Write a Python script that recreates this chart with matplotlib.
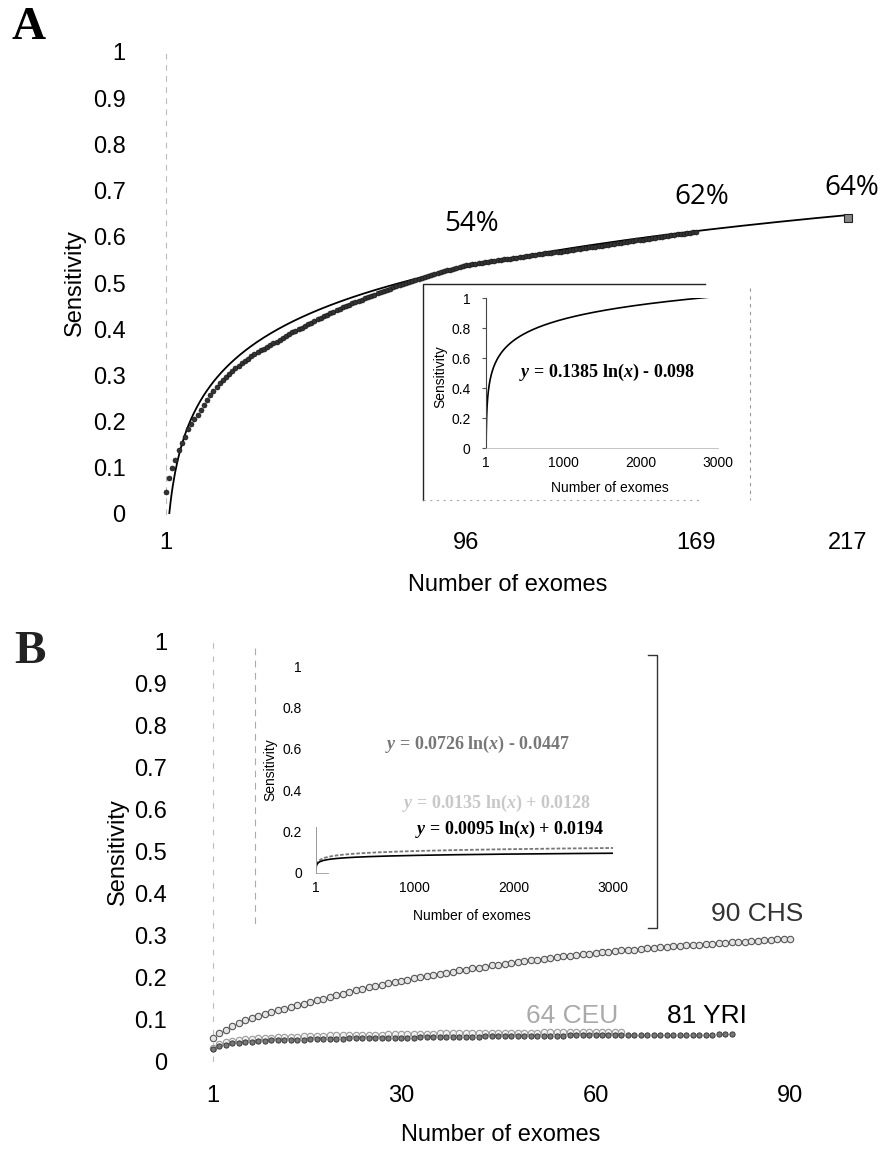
import numpy as np
import matplotlib
matplotlib.use("Agg")
import matplotlib.pyplot as plt
from matplotlib.lines import Line2D

plt.rcParams['font.family'] = ['Liberation Sans', 'DejaVu Sans']
plt.rcParams['mathtext.fontset'] = 'custom'
plt.rcParams['mathtext.rm'] = 'Liberation Serif:weight=bold'
plt.rcParams['mathtext.it'] = 'Liberation Serif:style=italic:weight=bold'
plt.rcParams['mathtext.bf'] = 'Liberation Serif:weight=bold'

# ---- panel A data: sensitivity per number of exomes (n = 1..169) ----
a_sens = [
    .048, .078, .100, .117, .139, .153, .167, .184, .195, .205,
    .214, .225, .236, .247, .258, .266, .275, .283, .290, .297,
    .303, .309, .315, .321, .326, .331, .336, .341, .346, .350,
    .354, .358, .362, .366, .370, .373, .377, .381, .385, .389,
    .393, .397, .400, .403, .407, .411, .414, .417, .421, .424,
    .428, .431, .434, .438, .441, .444, .447, .450, .453, .456,
    .459, .462, .464, .467, .470, .472, .475, .478, .480, .483,
    .485, .488, .491, .493, .495, .498, .500, .502, .505, .507,
    .509, .511, .513, .516, .518, .520, .522, .524, .526, .528,
    .529, .531, .533, .535, .537, .539, .540, .541, .542, .543,
    .544, .545, .546, .547, .548, .549, .550, .551, .552, .553,
    .554, .555, .556, .557, .558, .559, .560, .561, .562, .563,
    .564, .565, .566, .567, .567, .568, .569, .570, .571, .572,
    .573, .574, .575, .576, .577, .578, .579, .580, .581, .582,
    .583, .584, .585, .586, .587, .588, .589, .590, .591, .592,
    .593, .594, .595, .596, .597, .598, .599, .600, .601, .602,
    .603, .604, .605, .606, .607, .608, .609, .610, .611,
]
a_last_n = 217
a_last_sens = 0.64
a_fit = [0.1385, -0.098]          # y = a ln(x) + b
a_ticks = [1, 96, 169, 217]
a_pct_txt = ['54%', '62%', '64%']

# ---- panel B data ----
chs = [
    .055, .066, .075, .083, .090, .097, .103, .108, .113, .117,
    .121, .125, .129, .133, .137, .141, .145, .149, .153, .157,
    .161, .165, .169, .172, .176, .179, .182, .185, .188, .191,
    .194, .197, .200, .203, .205, .208, .211, .213, .216, .218,
    .221, .223, .225, .228, .230, .232, .234, .236, .238, .240,
    .242, .244, .246, .248, .250, .251, .253, .255, .256, .258,
    .259, .261, .262, .264, .265, .266, .268, .269, .270, .271,
    .272, .274, .275, .276, .277, .278, .279, .280, .281, .282,
    .283, .284, .285, .286, .287, .288, .289, .290, .291, .292,
]
ceu = [
    .030, .040, .045, .048, .050, .052, .053, .054, .055, .056,
    .057, .057, .058, .058, .059, .059, .060, .060, .061, .061,
    .061, .062, .062, .062, .063, .063, .063, .064, .064, .064,
    .064, .065, .065, .065, .065, .066, .066, .066, .066, .066,
    .067, .067, .067, .067, .067, .068, .068, .068, .068, .068,
    .068, .069, .069, .069, .069, .069, .069, .070, .070, .070,
    .070, .070, .070, .070,
]
yri = [
    .028, .035, .039, .042, .044, .045, .046, .047, .048, .049,
    .049, .050, .050, .051, .051, .052, .052, .052, .053, .053,
    .053, .054, .054, .054, .055, .055, .055, .055, .056, .056,
    .056, .056, .057, .057, .057, .057, .057, .058, .058, .058,
    .058, .058, .059, .059, .059, .059, .059, .059, .060, .060,
    .060, .060, .060, .060, .060, .061, .061, .061, .061, .061,
    .061, .061, .062, .062, .062, .062, .062, .062, .062, .062,
    .063, .063, .063, .063, .063, .063, .063, .063, .064, .064,
    .064,
]
b_fits = {'CHS': [0.0726, -0.0447], 'CEU': [0.0135, 0.0128], 'YRI': [0.0095, 0.0194]}
b_ticks = [1, 30, 60, 90]
inset_ticks = [1, 1000, 2000, 3000]

W, H = 881, 1152
fig = plt.figure(figsize=(W / 100, H / 100), dpi=100)


def fx(px):
    return px / W


def fy(py):
    return 1 - py / H


def box(l, t, r, b):
    return [fx(l), fy(b), fx(r) - fx(l), fy(t) - fy(b)]


def fline(xs, ys, **kw):
    fig.add_artist(Line2D([fx(v) for v in xs], [fy(v) for v in ys],
                          transform=fig.transFigure, **kw))


yt = np.round(np.arange(0, 1.01, 0.1), 1)
ylabs = ['%g' % v for v in yt]

# ================= panel A =================
axA = fig.add_axes(box(166, 52, 848, 514))
n_a = np.arange(1, len(a_sens) + 1)
xs = np.linspace(1, a_last_n, 600)
axA.plot(xs, a_fit[0] * np.log(xs) + a_fit[1], color='black', lw=1.3, zorder=2)
axA.plot(n_a, a_sens, 'o', ms=3.6, mfc='#333333', mec='#111111', mew=0.4,
         clip_on=False, zorder=3)
axA.plot([a_last_n], [a_last_sens], 's', ms=6, mfc='#888888', mec='#222222',
         mew=0.8, clip_on=False, zorder=4)
axA.set_xlim(1, a_last_n)
axA.set_ylim(0, 1)
axA.set_xticks(a_ticks)
axA.set_yticks(yt)
axA.set_yticklabels(ylabs)
axA.tick_params(length=0, labelsize=17)
axA.tick_params(axis='y', pad=29)
axA.tick_params(axis='x', pad=13)
for s in ['top', 'right', 'bottom']:
    axA.spines[s].set_visible(False)
axA.spines['left'].set(color='#bbbbbb', lw=0.8, linestyle=(0, (4, 6)))

pct_xy = [(472, 224), (702, 197), (852, 188)]
for (px, py), t in zip(pct_xy, a_pct_txt):
    fig.text(fx(px), fy(py), t, ha='center', va='center', fontsize=20,
             family=['Open Sans', 'DejaVu Sans'])

fig.text(fx(75), fy(283), 'Sensitivity', rotation=90, ha='center', va='center', fontsize=17)
fig.text(fx(508), fy(585), 'Number of exomes', ha='center', va='center', fontsize=17)
fig.text(fx(29), fy(28), 'A', ha='center', va='center', fontsize=34,
         family='Liberation Serif', fontweight='bold')

# inset A
fline([423, 423, 705], [500, 284, 284], color='#222222', lw=1.0)
fline([750, 750], [288, 500], color='#999999', lw=0.8, linestyle=(0, (3, 4)))
fline([423, 700], [500, 500], color='#aaaaaa', lw=0.8, linestyle=(0, (2, 4)))
axIA = fig.add_axes(box(486, 298, 718, 448))
xi = np.linspace(1, 3000, 3000)
axIA.plot(xi, a_fit[0] * np.log(xi) + a_fit[1], color='black', lw=1.2)
axIA.set_xlim(1, 3000)
axIA.set_ylim(0, 1)
axIA.set_xticks(inset_ticks)
axIA.set_yticks([0, 0.2, 0.4, 0.6, 0.8, 1])
axIA.set_yticklabels(['0', '0.2', '0.4', '0.6', '0.8', '1'])
axIA.tick_params(labelsize=10)
axIA.tick_params(axis='y', length=3, pad=8, color='#555555')
axIA.tick_params(axis='x', length=0, pad=6)
for s in ['top', 'right']:
    axIA.spines[s].set_visible(False)
axIA.spines['left'].set(color='#444444', lw=0.8)
axIA.spines['bottom'].set(color='#bbbbbb', lw=0.6)
axIA.patch.set_alpha(0)
fig.text(fx(440), fy(377), 'Sensitivity', rotation=90, ha='center', va='center', fontsize=10)
fig.text(fx(610), fy(488), 'Number of exomes', ha='center', va='center', fontsize=10)
fig.text(fx(607), fy(372), r'$y$ = 0.1385 ln($x$) - 0.098', ha='center', va='center',
         fontsize=13, family='Liberation Serif', fontweight='bold')

# ================= panel B =================
axB = fig.add_axes(box(213, 642, 790, 1061))
axB.plot(np.arange(1, len(chs) + 1), chs, 'o', ms=4.6, mfc='#e4e4e4', mec='#555555',
         mew=0.8, clip_on=False, zorder=3)
axB.plot(np.arange(1, len(ceu) + 1), ceu, 'o', ms=4.6, mfc='#f2f2f2', mec='#9a9a9a',
         mew=0.8, clip_on=False, zorder=4)
axB.plot(np.arange(1, len(yri) + 1), yri, 'o', ms=3.8, mfc='#777777', mec='#2a2a2a',
         mew=0.6, clip_on=False, zorder=5)
axB.set_xlim(1, 90)
axB.set_ylim(0, 1)
axB.set_xticks(b_ticks)
axB.set_yticks(yt)
axB.set_yticklabels(ylabs)
axB.tick_params(length=0, labelsize=17)
axB.tick_params(axis='y', pad=33)
axB.tick_params(axis='x', pad=17)
for s in ['top', 'right', 'bottom']:
    axB.spines[s].set_visible(False)
axB.spines['left'].set(color='#bbbbbb', lw=0.8, linestyle=(0, (4, 8)))

fig.text(fx(757), fy(914), '90 CHS', ha='center', va='center', fontsize=19, color='#333333')
fig.text(fx(572), fy(1016), '64 CEU', ha='center', va='center', fontsize=19, color='#aaaaaa')
fig.text(fx(707), fy(1016), '81 YRI', ha='center', va='center', fontsize=19, color='black')

fig.text(fx(118), fy(852), 'Sensitivity', rotation=90, ha='center', va='center', fontsize=17)
fig.text(fx(501), fy(1135), 'Number of exomes', ha='center', va='center', fontsize=17)
fig.text(fx(30), fy(652), 'B', ha='center', va='center', fontsize=34,
         family='Liberation Serif', fontweight='bold', color='#222222')

# inset B
fline([255, 255], [648, 928], color='#aaaaaa', lw=0.8, linestyle=(0, (6, 5)))
fline([648, 657, 657, 648], [655, 655, 928, 928], color='#333333', lw=1.0)
axIB = fig.add_axes(box(316, 666, 613, 873))
axIB.plot(xi, b_fits['CEU'][0] * np.log(xi) + b_fits['CEU'][1], color='#777777',
          lw=1.3, linestyle=(0, (2, 1)))
axIB.plot(xi, b_fits['YRI'][0] * np.log(xi) + b_fits['YRI'][1], color='black', lw=1.2)
axIB.set_xlim(1, 3000)
axIB.set_ylim(0, 1)
axIB.set_xticks(inset_ticks)
axIB.set_yticks([0, 0.2, 0.4, 0.6, 0.8, 1])
axIB.set_yticklabels(['0', '0.2', '0.4', '0.6', '0.8', '1'])
axIB.tick_params(labelsize=10)
axIB.tick_params(axis='y', length=0, pad=10)
axIB.tick_params(axis='x', length=0, pad=6)
for s in ['top', 'right']:
    axIB.spines[s].set_visible(False)
axIB.spines['left'].set(color='#999999', lw=0.7)
axIB.spines['left'].set_bounds(0, 0.22)
axIB.spines['bottom'].set(color='#999999', lw=0.6)
axIB.spines['bottom'].set_bounds(1, 120)
axIB.patch.set_alpha(0)
fig.text(fx(270), fy(770), 'Sensitivity', rotation=90, ha='center', va='center', fontsize=10)
fig.text(fx(472), fy(916), 'Number of exomes', ha='center', va='center', fontsize=10)

eq_xy = {'CHS': (477, 744), 'CEU': (497, 803), 'YRI': (510, 829)}
eq_col = {'CHS': '#777777', 'CEU': '#c8c8c8', 'YRI': 'black'}
for k, (px, py) in eq_xy.items():
    a, b = b_fits[k]
    sign = '+' if b >= 0 else '-'
    txt = r'$y$ = %.4f ln($x$) %s %s' % (a, sign, ('%.4f' % abs(b)))
    fig.text(fx(px), fy(py), txt, ha='center', va='center', fontsize=13,
             family='Liberation Serif', fontweight='bold', color=eq_col[k])

fig.savefig('out.png', dpi=100)
